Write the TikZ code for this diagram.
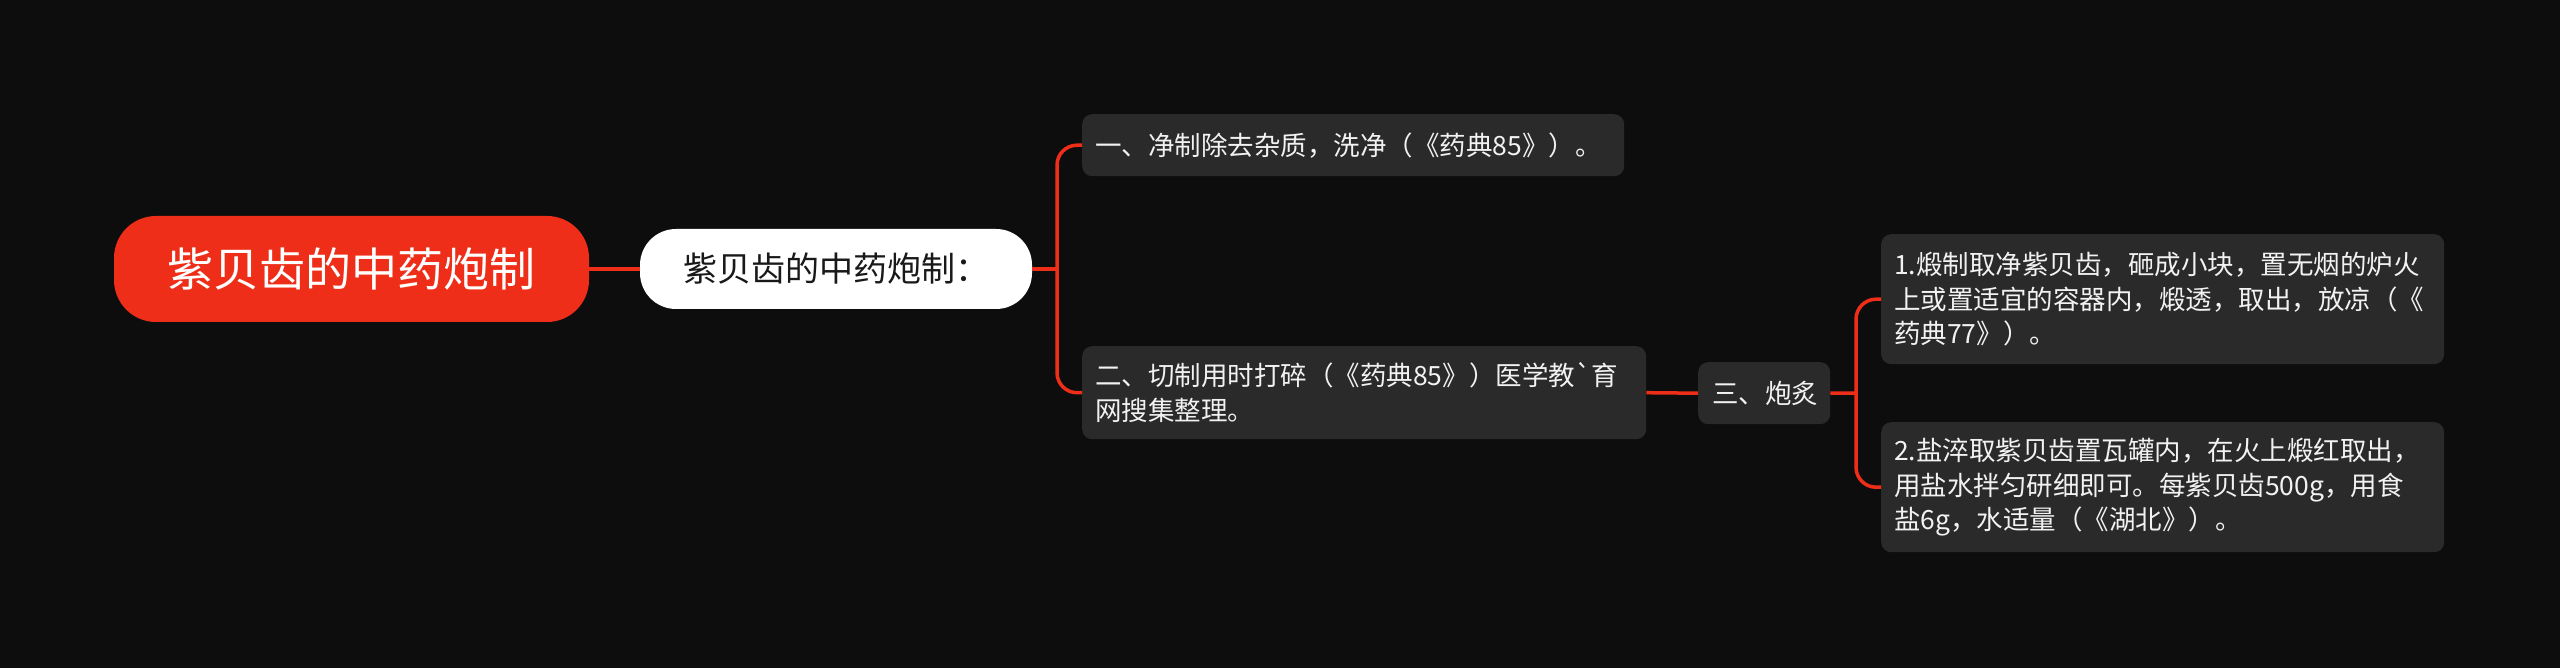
\documentclass[tikz,border=0pt]{standalone}
\usepackage{fontspec}
\newfontfamily\cjk{Noto Sans CJK SC}
\definecolor{bg}{HTML}{0D0D0D}
\definecolor{redc}{HTML}{EE2E18}
\definecolor{boxc}{HTML}{2A2A2A}
\definecolor{txtw}{HTML}{F2F2F2}
\begin{document}
\begin{tikzpicture}[x=1pt,y=-1pt,
  leaf/.style={fill=boxc, rounded corners=10pt, text=txtw,
    font=\cjk\fontsize{26.5}{34.5}\selectfont, align=left,
    inner xsep=13pt, inner ysep=0pt, anchor=north west},
  rootbox/.style={fill=redc, rounded corners=42pt, text=white,
    font=\cjk\fontsize{46}{54}\selectfont, inner sep=0pt},
  lonebox/.style={fill=white, rounded corners=36pt, text=black!90,
    font=\cjk\fontsize{34}{40}\selectfont, inner sep=0pt},
  conn/.style={draw=redc, line width=3.5pt}]
\fill[bg] (0,0) rectangle (2560,668);
\useasboundingbox (0,0) rectangle (2560,668);

\node[rootbox, minimum width=475pt, minimum height=106pt] (root) at (351.5,269) {紫贝齿的中药炮制};
\node[lonebox, minimum width=392pt, minimum height=80pt] (l1) at (836,269) {紫贝齿的中药炮制：};

\node[leaf, text width=516pt, minimum height=62pt] (c1) at (1082,114) {一、净制除去杂质，洗净（《药典85》）。};
\node[leaf, text width=538pt, minimum height=93pt] (c2) at (1082,346) {二、切制用时打碎（《药典85》）医学教\symbol{96}育\\网搜集整理。};
\node[leaf, text width=104pt, minimum height=62pt, inner xsep=14pt] (c3) at (1698,362) {三、炮炙};
\node[leaf, text width=537pt, minimum height=130pt] (a) at (1881,234) {1.煅制取净紫贝齿，砸成小块，置无烟的炉火\\上或置适宜的容器内，煅透，取出，放凉（《\\药典77》）。};
\node[leaf, text width=537pt, minimum height=130pt] (b) at (1881,422) {2.盐淬取紫贝齿置瓦罐内，在火上煅红取出，\\用盐水拌匀研细即可。每紫贝齿500g，用食\\盐6g，水适量（《湖北》）。};

\draw[conn] (root.east) -- (l1.west);
\coordinate (j1) at (1057,269);
\draw[conn] (l1.east) -- (j1);
\draw[conn, rounded corners=20pt] (j1) |- (c1.west);
\draw[conn, rounded corners=20pt] (j1) |- (c2.west);
\draw[conn] (c2.east) -- (c3.west);
\coordinate (j2) at (1856,393);
\draw[conn] (c3.east) -- (j2);
\draw[conn, rounded corners=20pt] (j2) |- (a.west);
\draw[conn, rounded corners=20pt] (j2) |- (b.west);
\end{tikzpicture}
\end{document}
